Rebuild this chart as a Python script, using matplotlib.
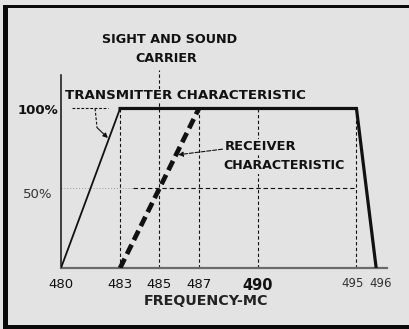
import matplotlib
matplotlib.use("Agg")
import matplotlib.pyplot as plt
from matplotlib.patches import Rectangle

# ── data ────────────────────────────────────────────────────────────────
tick_freqs = [480, 483, 485, 487, 490]
tick_labels = ["480", "483", "485", "487", "490"]
# the two crowded labels at the high end are placed by hand-picked freqs
edge_labels = ["495", "496"]
edge_label_freqs = [494.82, 496.24]

transmitter_freq = [480, 483, 495, 496]
transmitter_level = [0, 100, 100, 0]

receiver_freq = [483, 487]
receiver_level = [0, 100]

# dashed guide lines: (frequency, top level)
guide_freqs = [483, 485, 487, 490, 495]
guide_tops = [100, 124, 100, 100, 100]

half_level = 50
half_start, half_end = 483.65, 495

BG = "#e3e3e3"
INK = "#111111"

W, H = 409, 329
fig = plt.figure(figsize=(W / 100, H / 100), dpi=100)
fig.patch.set_facecolor(BG)

# axes placed so 480 MC sits at x=61px and 0% at y=268px
ax = fig.add_axes([61 / W, (H - 268) / H, 326 / W, 193 / H])
ax.set_facecolor(BG)
ax.set_xlim(480, 496.55)
ax.set_ylim(0, 121)

for s in ("top", "right"):
    ax.spines[s].set_visible(False)
ax.spines["left"].set_color(INK)
ax.spines["left"].set_linewidth(1.1)
ax.spines["bottom"].set_color("#6a6a6a")
ax.spines["bottom"].set_linewidth(1.6)
ax.set_yticks([])

ax.set_xticks(tick_freqs)
ax.set_xticklabels(tick_labels)
ax.tick_params(axis="x", length=0, pad=7, labelsize=9.5, labelcolor=INK)
for lbl in ax.get_xticklabels():
    if lbl.get_text() == "490":
        lbl.set_fontweight("bold")
        lbl.set_fontsize(10.5)

for f, t in zip(edge_label_freqs, edge_labels):
    ax.text(f, -9.5, t, ha="center", va="center", fontsize=8.5,
            color="#333333", clip_on=False)

# guide lines
for f, top in zip(guide_freqs, guide_tops):
    ax.plot([f, f], [0, top], color=INK, lw=0.8, ls=(0, (3, 2.2)),
            clip_on=False, zorder=1)
ax.plot([half_start, half_end], [half_level, half_level], color=INK, lw=0.8,
        ls=(0, (4, 2.5)), zorder=1)
ax.plot([480, half_start], [half_level, half_level], color="#9a9a9a", lw=0.7,
        ls=(0, (1, 2)), zorder=1)

# transmitter characteristic
ax.plot(transmitter_freq[:2], transmitter_level[:2], color=INK, lw=1.3,
        solid_capstyle="round", zorder=3)
ax.plot(transmitter_freq[1:], transmitter_level[1:], color=INK, lw=2.3,
        solid_joinstyle="miter", zorder=3)

# receiver characteristic
ax.plot(receiver_freq, receiver_level, color=INK, lw=3.4,
        dashes=(2.2, 1.1), zorder=3)

# labels
lab = dict(color=INK, fontweight="bold")
ax.text(485.5, 143, "SIGHT AND SOUND", ha="center", va="center",
        fontsize=9.2, clip_on=False, **lab)
ax.text(485.35, 131.5, "CARRIER", ha="center", va="center",
        fontsize=9.2, clip_on=False,
        bbox=dict(facecolor=BG, edgecolor="none", pad=0.5), **lab)
ax.text(480.2, 108, "TRANSMITTER CHARACTERISTIC", ha="left", va="center",
        fontsize=9.6, bbox=dict(facecolor=BG, edgecolor="none", pad=0.5), **lab)
ax.text(488.3, 76, "RECEIVER", ha="left", va="center",
        fontsize=9.4, bbox=dict(facecolor=BG, edgecolor="none", pad=0.8), **lab)
ax.text(488.25, 64, "CHARACTERISTIC", ha="left", va="center",
        fontsize=9.1, bbox=dict(facecolor=BG, edgecolor="none", pad=0.8), **lab)

ax.text(478.85, 99, "100%", ha="center", va="center", fontsize=9.5,
        clip_on=False, **lab)
ax.text(478.8, 46, "50%", ha="center", va="center", fontsize=9.5,
        color="#333333", clip_on=False)

ax.text(0.445, -0.17, "FREQUENCY-MC", transform=ax.transAxes, ha="center",
        va="center", fontsize=10.3, color="#222222", fontweight="bold")

# leader lines to the curves
ax.plot([480.55, 482.4], [100.5, 100.5], color=INK, lw=0.8, ls=(0, (2.5, 1.5)))
ax.plot([481.73, 481.83], [100, 88], color=INK, lw=0.8, ls=(0, (2.5, 1.5)))
ax.annotate("", xy=(482.38, 81.5), xytext=(481.83, 88),
            arrowprops=dict(arrowstyle="-|>", color=INK, lw=0.8,
                            mutation_scale=7, shrinkA=0, shrinkB=0))
ax.annotate("", xy=(485.95, 71), xytext=(488.2, 74.5),
            arrowprops=dict(arrowstyle="-|>", color=INK, lw=0.8, ls="--",
                            mutation_scale=7, shrinkA=0, shrinkB=0))

# printed frame
fig.add_artist(Rectangle((3 / W, 0), 5 / W, 324 / H, transform=fig.transFigure,
                         color="#0a0a0a", lw=0))
fig.add_artist(Rectangle((3 / W, (H - 8) / H), (W - 3) / W, 3 / H,
                         transform=fig.transFigure, color="#0a0a0a", lw=0))
fig.add_artist(Rectangle((3 / W, 0), (W - 3) / W, 4 / H,
                         transform=fig.transFigure, color="#0a0a0a", lw=0))

fig.savefig("out.png", dpi=100, facecolor=fig.get_facecolor())
